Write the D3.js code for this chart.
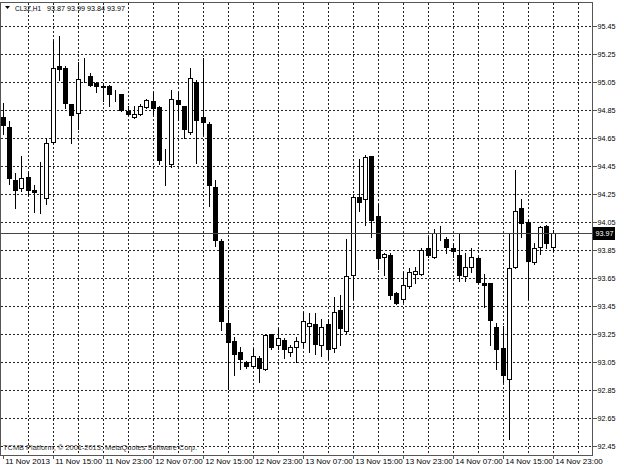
<!DOCTYPE html>
<html>
<head>
<meta charset="utf-8">
<script src="https://cdn.jsdelivr.net/npm/d3@7"></script>
<style>
  body { margin: 0; background: #fff; }
  svg { display: block; }
  text { font-family: 'Liberation Sans', Arial, sans-serif; font-size: 8px; fill: #000; }
</style>
</head>
<body>
<svg id="chart" width="624" height="468"></svg>
<script>
const symbol = 'CL3Z,H1'
const copyright = 'TCMB Platform, \u00a9 2001-2013, MetaQuotes Software Corp.'
const startTime = new Date(2013, 10, 11, 7)

// hourly bars, 11 Nov 07:00 .. 14 Nov 23:00
const opens = [94.80, 94.73, 94.35, 94.29, 94.37, 94.28, 94.26, 94.22, 94.62, 95.16,
  95.15, 94.89, 94.83, 95.08, 95.09, 95.04, 95.02, 95.02, 94.95, 94.96,
  94.84, 94.80, 94.82, 94.87, 94.91, 94.87, 94.49, 94.46, 94.92, 94.88,
  94.69, 95.05, 94.80, 94.75, 94.30, 93.91, 93.33, 93.20, 93.12, 93.05,
  93.02, 93.08, 93.00, 93.25, 93.17, 93.21, 93.12, 93.16, 93.19, 93.31,
  93.32, 93.17, 93.32, 93.15, 93.42, 93.27, 93.67, 94.23, 94.21, 94.52,
  94.09, 93.80, 93.81, 93.54, 93.50, 93.59, 93.68, 93.68, 93.86, 93.80,
  93.95, 93.93, 93.86, 93.81, 93.66, 93.73, 93.79, 93.61, 93.61, 93.30,
  93.15, 92.93, 93.73, 94.15, 94.05, 93.76, 93.87, 94.02, 93.87]
const highs = [94.90, 94.77, 94.40, 94.52, 94.40, 94.31, 94.48, 94.65, 95.34, 95.38,
  95.16, 94.89, 95.19, 95.22, 95.11, 95.05, 95.04, 95.03, 94.99, 94.96,
  94.88, 94.88, 94.89, 94.93, 94.98, 94.88, 94.57, 94.99, 94.98, 94.88,
  95.15, 95.06, 95.22, 94.76, 94.35, 93.93, 93.42, 93.23, 93.16, 93.06,
  93.15, 93.09, 93.25, 93.25, 93.29, 93.22, 93.17, 93.23, 93.41, 93.40,
  93.40, 93.36, 93.36, 93.51, 93.53, 93.93, 94.25, 94.50, 94.53, 94.52,
  94.18, 93.83, 93.83, 93.55, 93.69, 93.72, 93.73, 93.86, 93.94, 94.00,
  94.02, 93.94, 93.90, 93.97, 93.83, 93.86, 93.80, 93.68, 93.61, 93.33,
  93.31, 93.96, 94.42, 94.21, 94.06, 93.90, 94.02, 94.03, 93.99]
const lows = [94.68, 94.32, 94.15, 94.27, 94.24, 94.12, 94.11, 94.18, 94.61, 95.06,
  94.86, 94.61, 94.71, 95.05, 95.02, 94.98, 94.91, 94.88, 94.91, 94.84,
  94.81, 94.79, 94.81, 94.86, 94.82, 94.46, 94.31, 94.44, 94.78, 94.65,
  94.68, 94.47, 94.68, 94.16, 93.88, 93.28, 92.86, 92.96, 93.00, 93.01,
  93.01, 92.91, 92.99, 93.14, 93.14, 93.08, 93.09, 93.05, 93.16, 93.12,
  93.11, 93.09, 93.07, 93.12, 93.17, 93.26, 93.50, 94.13, 94.03, 93.94,
  93.71, 93.67, 93.50, 93.46, 93.48, 93.58, 93.61, 93.67, 93.80, 93.79,
  93.92, 93.83, 93.80, 93.63, 93.63, 93.69, 93.61, 93.44, 93.17, 93.00,
  92.91, 92.50, 93.72, 93.94, 93.50, 93.75, 93.82, 93.86, 93.84]
const closes = [94.74, 94.36, 94.28, 94.36, 94.28, 94.26, 94.26, 94.61, 95.15, 95.14,
  94.90, 94.81, 95.07, 95.08, 95.03, 95.02, 95.01, 94.96, 94.95, 94.85,
  94.82, 94.82, 94.88, 94.92, 94.86, 94.49, 94.49, 94.93, 94.89, 94.71,
  95.08, 94.78, 94.76, 94.31, 93.92, 93.34, 93.19, 93.11, 93.07, 93.02,
  93.09, 93.01, 93.24, 93.16, 93.22, 93.14, 93.16, 93.20, 93.34, 93.33,
  93.18, 93.30, 93.14, 93.41, 93.29, 93.66, 94.23, 94.19, 94.51, 94.06,
  93.79, 93.82, 93.53, 93.47, 93.60, 93.69, 93.70, 93.85, 93.81, 93.97,
  93.95, 93.87, 93.84, 93.67, 93.73, 93.80, 93.62, 93.60, 93.35, 93.14,
  92.96, 93.72, 94.13, 94.04, 93.77, 93.86, 94.01, 93.90, 93.97]

const priceTicks = [92.45, 92.65, 92.85, 93.05, 93.25, 93.45, 93.65, 93.85,
  94.05, 94.25, 94.45, 94.65, 94.85, 95.05, 95.25, 95.45]
const timeTickHours = [0, 8, 16, 24, 32, 40, 48, 56, 64, 72, 80, 88]
const timeLabels = ['11 Nov 2013', '11 Nov 15:00', '11 Nov 23:00', '12 Nov 07:00',
  '12 Nov 15:00', '12 Nov 23:00', '13 Nov 07:00', '13 Nov 15:00', '13 Nov 23:00',
  '14 Nov 07:00', '14 Nov 15:00', '14 Nov 23:00']

const hour = 3600 * 1000
const at = h => new Date(+startTime + h * hour)
const plot = { left: 0.5, top: 2.5, right: 592.5, bottom: 455.5 }
const snap = v => Math.round(v) + 0.5
const fmt = d3.format('.2f')

const bars = opens.map((o, i) => ({
  time: at(i), open: o, high: highs[i], low: lows[i], close: closes[i]
}))
const last = bars[bars.length - 1]

const x = d3.scaleTime().domain([at(0), at(88)]).range([2.7, 552.7])
const y = d3.scaleLinear().domain([92.45, 95.45]).range([446, 25.7])

const svg = d3.select('#chart')

svg.append('clipPath').attr('id', 'plot-clip')
  .append('rect')
  .attr('x', plot.left).attr('y', plot.top)
  .attr('width', plot.right - plot.left).attr('height', plot.bottom - plot.top)

// Grid
const grid = svg.append('g').classed('grid', true)
  .style('stroke', '#222')
  .style('stroke-dasharray', '2,2')
  .style('shape-rendering', 'crispEdges')

grid.selectAll('.hgrid')
  .data(priceTicks)
  .enter()
  .append('line')
  .classed('hgrid', true)
  .attr('x1', plot.left).attr('x2', plot.right)
  .attr('y1', d => snap(y(d))).attr('y2', d => snap(y(d)))

grid.selectAll('.vgrid')
  .data(d3.range(4, 96, 4).map(at))
  .enter()
  .append('line')
  .classed('vgrid', true)
  .attr('x1', d => snap(x(d))).attr('x2', d => snap(x(d)))
  .attr('y1', plot.top).attr('y2', plot.bottom)

svg.append('text')
  .attr('x', 3)
  .attr('y', 450)
  .attr('textLength', 194)
  .attr('lengthAdjust', 'spacingAndGlyphs')
  .style('fill', '#333')
  .text(copyright)

// Candles
const candles = svg.append('g')
  .attr('clip-path', 'url(#plot-clip)')
  .selectAll('.candle')
  .data(bars)
  .enter()
  .append('g')
  .classed('candle', true)
  .style('shape-rendering', 'crispEdges')

candles.append('line')
  .attr('x1', d => snap(x(d.time))).attr('x2', d => snap(x(d.time)))
  .attr('y1', d => Math.round(y(d.high))).attr('y2', d => Math.round(y(d.low)) + 1)
  .style('stroke', '#000')

candles.append('rect')
  .attr('x', d => Math.round(x(d.time)) - 1.5)
  .attr('width', 4)
  .attr('y', d => snap(y(Math.max(d.open, d.close))))
  .attr('height', d => snap(y(Math.min(d.open, d.close))) - snap(y(Math.max(d.open, d.close))))
  .style('fill', d => d.close < d.open ? '#000' : '#fff')
  .style('stroke', '#000')

// Last price line
svg.append('line')
  .attr('x1', plot.left).attr('x2', plot.right)
  .attr('y1', snap(y(last.close))).attr('y2', snap(y(last.close)))
  .style('stroke', '#444')
  .style('shape-rendering', 'crispEdges')

// Frame
svg.append('rect')
  .attr('x', plot.left).attr('y', plot.top)
  .attr('width', plot.right - plot.left).attr('height', plot.bottom - plot.top)
  .style('fill', 'none')
  .style('stroke', '#555')
  .style('shape-rendering', 'crispEdges')

// Price axis
const yAxis = svg.append('g')
  .attr('transform', `translate(${plot.right},0)`)
  .call(d3.axisRight(y).tickValues(priceTicks).tickSize(4).tickPadding(1).tickFormat(fmt))
yAxis.attr('font-family', null).attr('font-size', null)
yAxis.select('.domain').remove()
yAxis.selectAll('.tick line').style('stroke', '#555').style('shape-rendering', 'crispEdges')
yAxis.selectAll('.tick text').attr('dy', '0.35em').attr('textLength', 18).attr('lengthAdjust', 'spacingAndGlyphs')

const marker = svg.append('g')
  .attr('transform', `translate(${plot.right + 0.5},${snap(y(last.close))})`)
marker.append('rect')
  .attr('x', 0).attr('y', -6.5)
  .attr('width', 22).attr('height', 13)
  .style('fill', '#000')
marker.append('text')
  .attr('x', 2.5).attr('y', 0).attr('dy', '0.35em')
  .attr('textLength', 18).attr('lengthAdjust', 'spacingAndGlyphs')
  .style('fill', '#fff')
  .text(fmt(last.close))

// Time axis
const xAxis = svg.append('g')
  .attr('transform', `translate(0,${plot.bottom})`)
  .call(d3.axisBottom(x).tickValues(timeTickHours.map(at)).tickSize(3).tickPadding(0)
    .tickFormat((d, i) => timeLabels[i]))
xAxis.attr('font-family', null).attr('font-size', null)
xAxis.select('.domain').remove()
xAxis.selectAll('.tick line').style('stroke', '#555').style('shape-rendering', 'crispEdges')
xAxis.selectAll('.tick text')
  .attr('text-anchor', 'start')
  .attr('x', 2)
  .attr('y', 2)
  .attr('dy', '0.8em')

// Title
svg.append('path')
  .attr('d', 'M5,6 L10,6 L7.5,9 Z')
  .style('fill', '#000')
svg.append('text')
  .attr('x', 15).attr('y', 11)
  .attr('textLength', 26).attr('lengthAdjust', 'spacingAndGlyphs')
  .text(symbol)
svg.append('text')
  .attr('x', 47).attr('y', 11)
  .attr('textLength', 78).attr('lengthAdjust', 'spacingAndGlyphs')
  .text([last.open, last.high, last.low, last.close].map(fmt).join(' '))
</script>
</body>
</html>
